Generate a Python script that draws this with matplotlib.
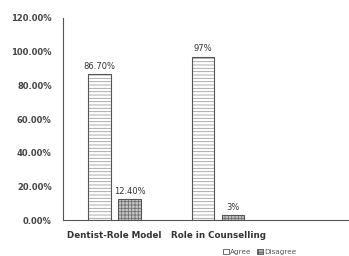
import numpy as np
import matplotlib.pyplot as plt
import matplotlib as mpl
from matplotlib.patches import Patch

categories = ["Dentist-Role Model", "Role in Counselling", ""]
agree = [86.7, 97, np.nan]
disagree = [12.4, 3, np.nan]
agree_labels = ["86.70%", "97%", ""]
disagree_labels = ["12.40%", "3%", ""]

mpl.rcParams['font.family'] = 'DejaVu Sans'
mpl.rcParams['hatch.linewidth'] = 0.6

fig = plt.figure(figsize=(3.49, 2.56), dpi=100)
ax = fig.add_axes([0.18, 0.14, 0.83, 0.79])

x = np.arange(len(categories))
w = 0.22
# hatched fill, then a darker outline on top
ax.bar(x - 0.145, agree, w, color='white', edgecolor='#a0a0a0', hatch='-----', linewidth=0)
ax.bar(x + 0.145, disagree, w, color='#c8c8c8', edgecolor='#707070', hatch='+++++', linewidth=0)
ax.bar(x - 0.145, agree, w, fill=False, edgecolor='#555555', linewidth=0.8)
ax.bar(x + 0.145, disagree, w, fill=False, edgecolor='#555555', linewidth=0.8)

for i in range(2):
    ax.text(x[i] - 0.145, agree[i] + 2, agree_labels[i], ha='center', va='bottom', fontsize=6, color='#333333')
    ax.text(x[i] + 0.145, disagree[i] + 2, disagree_labels[i], ha='center', va='bottom', fontsize=6, color='#333333')

ax.set_ylim(0, 120)
ax.set_yticks(np.arange(0, 121, 20))
ax.set_yticklabels([f"{v:.2f}%" for v in np.arange(0, 121, 20)], fontsize=6, fontweight='bold', color='#444444')
ax.set_xlim(-0.5, 2.3)
ax.set_xticks(x[:2])
ax.set_xticklabels(categories[:2], fontsize=6.3, fontweight='bold', color='#333333')
ax.tick_params(length=0, pad=8)
ax.spines['top'].set_visible(False)
ax.spines['right'].set_visible(False)
ax.spines['left'].set_color('#555555')
ax.spines['bottom'].set_color('#555555')

h1 = Patch(facecolor='white', edgecolor='#555555', linewidth=0.6, label='Agree')
h2 = Patch(facecolor='#b0b0b0', edgecolor='#555555', hatch='+++', linewidth=0.6, label='Disagree')
fig.legend(handles=[h1, h2], loc='lower left', bbox_to_anchor=(0.62, -0.022), ncol=2, frameon=False,
           fontsize=5.2, handlelength=0.8, handleheight=0.8, handletextpad=0.2, columnspacing=0.8,
           labelcolor='#555555')

fig.savefig('out.png', dpi=100)
